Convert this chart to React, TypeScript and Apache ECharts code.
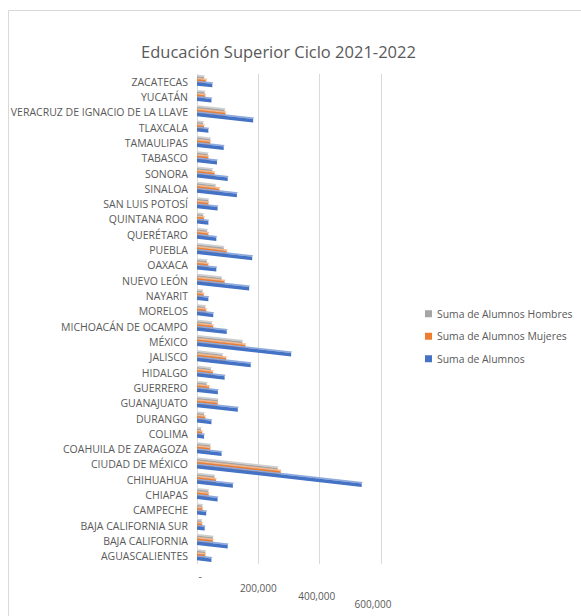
import React, { useEffect, useRef } from 'react';
import * as echarts from 'echarts';

const categories = [
  'AGUASCALIENTES', 'BAJA CALIFORNIA', 'BAJA CALIFORNIA SUR', 'CAMPECHE', 'CHIAPAS', 'CHIHUAHUA',
  'CIUDAD DE MÉXICO', 'COAHUILA DE ZARAGOZA', 'COLIMA', 'DURANGO', 'GUANAJUATO', 'GUERRERO',
  'HIDALGO', 'JALISCO', 'MÉXICO', 'MICHOACÁN DE OCAMPO', 'MORELOS', 'NAYARIT', 'NUEVO LEÓN',
  'OAXACA', 'PUEBLA', 'QUERÉTARO', 'QUINTANA ROO', 'SAN LUIS POTOSÍ', 'SINALOA', 'SONORA',
  'TABASCO', 'TAMAULIPAS', 'TLAXCALA', 'VERACRUZ DE IGNACIO DE LA LLAVE', 'YUCATÁN', 'ZACATECAS',
];

const hombres = [
  27000, 52000, 15000, 17000, 37000, 57000,
  263000, 43000, 13000, 23000, 68000, 32000,
  45000, 83000, 148000, 48000, 27000, 18000, 80000,
  32000, 87000, 33000, 20000, 37000, 60000, 50000,
  35000, 43000, 20000, 90000, 25000, 23000,
];

const mujeres = [
  27000, 52000, 17000, 18000, 38000, 62000,
  273000, 43000, 17000, 27000, 67000, 40000,
  52000, 95000, 158000, 53000, 30000, 22000, 90000,
  37000, 97000, 37000, 23000, 37000, 73000, 57000,
  37000, 43000, 23000, 93000, 27000, 30000,
];

const total = [
  47000, 100000, 25000, 30000, 67000, 117000,
  537000, 80000, 23000, 47000, 133000, 68000,
  90000, 175000, 307000, 97000, 53000, 37000, 170000,
  63000, 180000, 63000, 37000, 67000, 130000, 100000,
  65000, 87000, 37000, 183000, 47000, 50000,
];

const seriesNames = ['Suma de Alumnos Hombres', 'Suma de Alumnos Mujeres', 'Suma de Alumnos'];
const tickLabels: Record<number, string> = { 0: '-', 200000: '200,000', 400000: '400,000', 600000: '600,000' };

export default function App() {
  const ref = useRef<HTMLDivElement>(null);

  useEffect(() => {
    if (!ref.current) return;
    const chart = echarts.init(ref.current, null, { renderer: 'svg' });
    const SLOPE = 0.112;
    const H = 3.5;
    const styles = [
      { color: '#A5A5A5', top: '#CFCFCF', off: -5.5 },
      { color: '#ED7D31', top: '#F6B98E', off: -2.5 },
      { color: '#4472C4', top: '#8EA9DB', off: 0.5 },
    ];
    const seriesData = [hombres, mujeres, total];
    const font = '"Open Sans", "Noto Sans", sans-serif';

    const series = seriesData.map((arr, si) => ({
      type: 'custom',
      name: seriesNames[si],
      itemStyle: { color: styles[si].color },
      encode: { x: 0, y: 1 },
      data: arr.map((v, i) => [v, i]),
      z: 2 + si,
      renderItem: (params: any, api: any) => {
        const v = api.value(0);
        const c = api.value(1);
        const s = api.coord([0, c]);
        const e = api.coord([v, c]);
        const x0 = s[0];
        const x1 = e[0];
        const len = x1 - x0;
        const y0 = s[1] + styles[si].off;
        const dy = len * SLOPE;
        return {
          type: 'group',
          children: [
            {
              type: 'polygon',
              shape: { points: [[x0 + 1, y0 - 1.5], [x1 + 1, y0 + dy - 1.5], [x1, y0 + dy], [x0, y0]] },
              style: { fill: styles[si].top },
            },
            {
              type: 'polygon',
              shape: { points: [[x0, y0], [x1, y0 + dy], [x1, y0 + dy + H], [x0, y0 + H]] },
              style: { fill: styles[si].color },
            },
          ],
        };
      },
    }));

    chart.setOption({
      animation: false,
      backgroundColor: '#ffffff',
      title: {
        text: 'Educación Superior Ciclo 2021-2022',
        left: 136,
        top: 38,
        textStyle: { fontFamily: font, fontSize: 16.5, fontWeight: 'normal', color: '#595959' },
      },
      graphic: [
        {
          type: 'rect',
          shape: { x: 8.5, y: 10.5, width: 700, height: 700 },
          style: { fill: 'none', stroke: '#d9d9d9', lineWidth: 1 },
          silent: true,
        },
      ],
      legend: {
        orient: 'vertical',
        left: 420,
        top: 302,
        itemWidth: 7,
        itemHeight: 7,
        itemGap: 9,
        icon: 'rect',
        data: seriesNames,
        textStyle: { fontFamily: font, fontSize: 10.4, color: '#595959', lineHeight: 13.5 },
      },
      grid: { left: 197, width: 184, top: 74, height: 490 },
      xAxis: {
        type: 'value',
        min: 0,
        max: 600000,
        interval: 200000,
        axisLine: { show: false },
        axisTick: { show: false },
        splitLine: { show: true, lineStyle: { color: '#d9d9d9', width: 1 } },
        axisLabel: {
          margin: 6,
          formatter: (v: number) => {
            const k = v / 200000;
            return `{l${k}|${tickLabels[v] ?? ''}}`;
          },
          rich: {
            l0: { fontFamily: font, fontSize: 10, color: '#595959', padding: [1, 0, 0, 6] },
            l1: { fontFamily: font, fontSize: 10, color: '#595959', padding: [13, 0, 0, 0] },
            l2: { fontFamily: font, fontSize: 10, color: '#595959', padding: [21, 6, 0, 0] },
            l3: { fontFamily: font, fontSize: 10, color: '#595959', padding: [29, 16, 0, 0] },
          },
        },
      },
      yAxis: {
        type: 'category',
        data: categories,
        axisLine: { show: false },
        axisTick: { show: false },
        axisLabel: { fontFamily: font, fontSize: 10.5, color: '#595959', margin: 9, interval: 0 },
      },
      series,
    });
    return () => chart.dispose();
  }, []);

  return <div ref={ref} style={{ position: 'absolute', left: 0, top: 0, width: 581, height: 616 }} />;
}
